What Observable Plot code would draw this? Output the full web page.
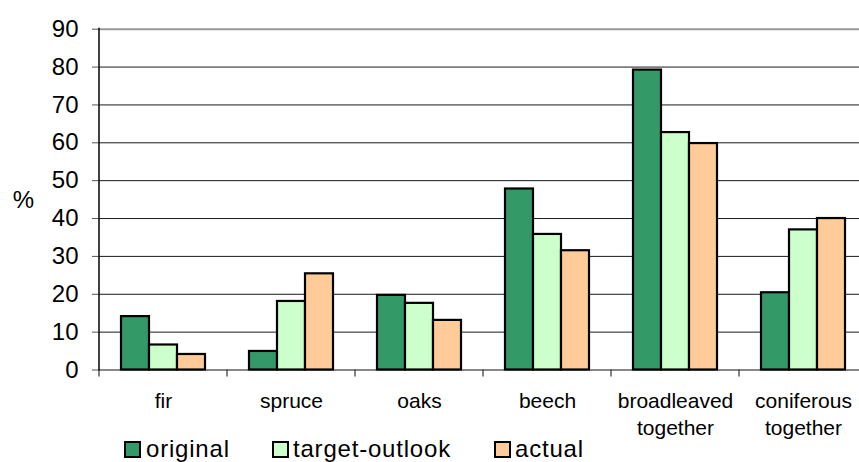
<!DOCTYPE html>
<html>
<head>
<meta charset="utf-8">
<script src="https://cdn.jsdelivr.net/npm/d3@7"></script>
<script src="https://cdn.jsdelivr.net/npm/@observablehq/plot@0.6"></script>
<style>
  html, body { margin: 0; padding: 0; overflow: hidden; background: #fff; }
  #wrap { position: relative; width: 867px; height: 462px; font-family: "Liberation Sans", Arial, sans-serif; color: #000; }
  #wrap svg { position: absolute; left: 0; top: 0; }
  #legend { position: absolute; left: 0; top: 430px; width: 867px; height: 40px; }
  .sw { position: absolute; top: 11px; width: 13px; height: 13px; border: 2px solid #000; }
  .lab { position: absolute; top: 7px; font-size: 24px; line-height: 24px; letter-spacing: 0.8px; white-space: nowrap; }
</style>
</head>
<body>
<div id="wrap"></div>
<script>
// Share of tree species / groups (%)
const categories = ["fir", "spruce", "oaks", "beech", "broadleaved\ntogether", "coniferous\ntogether"];
const series = ["original", "target-outlook", "actual"];
const original = [14.1, 4.9, 19.7, 47.8, 79.2, 20.4];
const targetOutlook = [6.6, 18.1, 17.6, 35.8, 62.7, 37.0];
const actual = [4.1, 25.4, 13.1, 31.5, 59.8, 40.0];
const yTicks = [0, 10, 20, 30, 40, 50, 60, 70, 80, 90];
const colors = ["#339966", "#ccffcc", "#ffcc99"];

const seriesValues = [original, targetOutlook, actual];
const rows = categories.flatMap((c, i) =>
  series.map((s, j) => ({category: c, series: s, value: seriesValues[j][i]}))
);

const chart = Plot.plot({
  width: 867,
  height: 462,
  marginLeft: 99,
  marginRight: 0,
  marginTop: 28.7,
  marginBottom: 92.5,
  style: {fontFamily: "'Liberation Sans', Arial, sans-serif", color: "#000", background: "#fff"},
  fx: {domain: categories, padding: 0, label: null},
  x: {domain: series, paddingInner: 0, paddingOuter: 0.735, axis: null},
  y: {domain: [0, 90], label: null},
  color: {domain: series, range: colors},
  marks: [
    Plot.gridY(yTicks.slice(1, -1), {stroke: "#000", strokeOpacity: 0.9, strokeWidth: 1}),
    Plot.ruleY([90], {stroke: "#999", strokeWidth: 2}),
    Plot.ruleY([0], {stroke: "#888", strokeWidth: 2}),
    Plot.barY(rows, {fx: "category", x: "series", y: "value", fill: "series", stroke: "#000", strokeWidth: 2.2}),
    Plot.axisY({ticks: yTicks, tickSize: 7, tickPadding: 14, fontSize: 24, stroke: "#555", label: null}),
    Plot.axisFx({anchor: "bottom", tickSize: 0, tickPadding: 19, fontSize: 21, lineHeight: 1.27, label: null}),
    Plot.text(["%"], {frameAnchor: "left", textAnchor: "middle", dx: -76, dy: 1, fontSize: 24, facetAnchor: "left"})
  ]
});

// value axis line and category boundary ticks, placed from the plot's scales
const fx = chart.scale("fx");
const y = chart.scale("y");
const svg = d3.select(chart);
const x0 = fx.apply(categories[0]);
const bounds = categories.map(c => fx.apply(c)).concat([fx.apply(categories[categories.length - 1]) + fx.bandwidth]);
const g = svg.append("g").attr("stroke", "#333");
g.selectAll("line.b").data(bounds).join("line")
  .attr("x1", d => d).attr("x2", d => d)
  .attr("y1", y.apply(0)).attr("y2", y.apply(0) + 7)
  .attr("stroke-width", 1.2);
g.append("line")
  .attr("x1", x0).attr("x2", x0)
  .attr("y1", y.apply(90) - 1).attr("y2", y.apply(0) + 1)
  .attr("stroke", "#111").attr("stroke-width", 1.6);

const wrap = document.getElementById("wrap");
wrap.appendChild(chart);

// legend
const legend = d3.select(wrap).append("div").attr("id", "legend");
const swatchLeft = [124, 272, 494];
const textLeft = [146, 293, 515];
series.forEach((s, i) => {
  legend.append("div").attr("class", "sw")
    .style("left", swatchLeft[i] + "px").style("background", colors[i]);
  legend.append("div").attr("class", "lab")
    .style("left", textLeft[i] + "px").text(s);
});
</script>
</body>
</html>
